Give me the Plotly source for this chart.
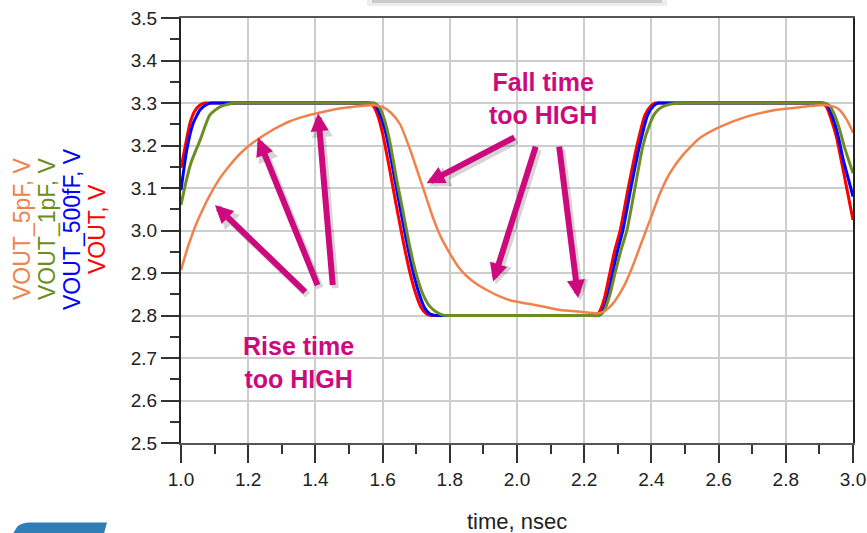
import plotly.graph_objects as go

# ---------------- data ----------------
t_vout = [1.000, 1.012, 1.027, 1.040, 1.055, 1.070, 1.085, 1.100,
          1.540, 1.555, 1.570, 1.585, 1.600, 1.620, 1.640, 1.660, 1.680, 1.700, 1.715, 1.730, 1.745, 1.760,
          2.220, 2.235, 2.245, 2.260, 2.275, 2.290, 2.307, 2.331, 2.357, 2.381, 2.398, 2.411, 2.420, 2.435,
          2.890, 2.905, 2.920, 2.935, 2.950, 2.965, 2.980, 3.000]
v_vout = [3.147, 3.196, 3.253, 3.280, 3.294, 3.300, 3.300, 3.300,
          3.300, 3.300, 3.295, 3.272, 3.228, 3.148, 3.062, 2.980, 2.905, 2.848, 2.818, 2.804, 2.800, 2.800,
          2.800, 2.800, 2.808, 2.840, 2.895, 2.950, 3.000, 3.100, 3.200, 3.272, 3.293, 3.300, 3.300, 3.300,
          3.300, 3.300, 3.292, 3.262, 3.222, 3.165, 3.105, 3.025]

t_500f = [1.000, 1.017, 1.036, 1.057, 1.075, 1.090, 1.105,
          1.547, 1.562, 1.578, 1.593, 1.610, 1.630, 1.650, 1.670, 1.690, 1.710, 1.725, 1.740, 1.757, 1.772,
          2.225, 2.240, 2.252, 2.268, 2.283, 2.298, 2.315, 2.339, 2.365, 2.389, 2.406, 2.420, 2.430, 2.445,
          2.895, 2.910, 2.925, 2.940, 2.955, 2.970, 2.985, 3.000]
v_500f = [3.095, 3.189, 3.252, 3.284, 3.296, 3.300, 3.300,
          3.300, 3.300, 3.295, 3.272, 3.228, 3.148, 3.062, 2.980, 2.905, 2.848, 2.818, 2.804, 2.800, 2.800,
          2.800, 2.800, 2.806, 2.838, 2.893, 2.948, 3.000, 3.100, 3.200, 3.272, 3.293, 3.300, 3.300, 3.300,
          3.300, 3.300, 3.292, 3.265, 3.225, 3.170, 3.125, 3.080]

t_1p = [1.000, 1.015, 1.030, 1.057, 1.086, 1.116, 1.150, 1.165, 1.180,
        1.560, 1.575, 1.590, 1.605, 1.620, 1.642, 1.660, 1.680, 1.700, 1.720, 1.740, 1.760, 1.780, 1.795, 1.810,
        2.230, 2.245, 2.260, 2.275, 2.292, 2.310, 2.327, 2.351, 2.375, 2.395, 2.411, 2.430, 2.460, 2.495, 2.510,
        2.900, 2.915, 2.930, 2.945, 2.960, 2.975, 3.000]
v_1p = [3.060, 3.115, 3.160, 3.213, 3.272, 3.291, 3.299, 3.300, 3.300,
        3.300, 3.300, 3.290, 3.262, 3.215, 3.119, 3.048, 2.965, 2.898, 2.850, 2.822, 2.808, 2.801, 2.800, 2.800,
        2.800, 2.800, 2.812, 2.845, 2.900, 2.955, 3.000, 3.100, 3.200, 3.250, 3.276, 3.290, 3.298, 3.300, 3.300,
        3.300, 3.300, 3.294, 3.272, 3.238, 3.195, 3.135]

t_5p = [1.000, 1.020, 1.042, 1.065, 1.086, 1.115, 1.146, 1.175, 1.205, 1.235, 1.265, 1.295,
        1.324, 1.365, 1.404, 1.445, 1.482, 1.520, 1.550, 1.575,
        1.600, 1.625, 1.652, 1.682, 1.711, 1.731, 1.750, 1.775, 1.801, 1.825, 1.850, 1.880,
        1.910, 1.945, 1.979, 2.030, 2.077, 2.128, 2.188, 2.240,
        2.260, 2.277, 2.292, 2.307, 2.322, 2.336, 2.351, 2.366, 2.396, 2.426, 2.455, 2.494,
        2.545, 2.604, 2.684, 2.773, 2.840, 2.890, 2.920,
        2.945, 2.961, 2.978, 2.991, 3.000]
v_5p = [2.907, 2.960, 3.009, 3.050, 3.083, 3.122, 3.154, 3.180, 3.201, 3.218, 3.233, 3.246,
        3.257, 3.268, 3.276, 3.283, 3.288, 3.292, 3.294, 3.295,
        3.291, 3.277, 3.250, 3.190, 3.122, 3.075, 3.030, 2.982, 2.945, 2.915, 2.893, 2.874,
        2.860, 2.846, 2.836, 2.828, 2.821, 2.813, 2.809, 2.805,
        2.810, 2.821, 2.835, 2.853, 2.875, 2.900, 2.930, 2.962, 3.025, 3.088, 3.135, 3.178,
        3.218, 3.244, 3.268, 3.284, 3.290, 3.294, 3.295,
        3.291, 3.283, 3.265, 3.246, 3.230]

series_names = ["VOUT_5pF, V", "VOUT_1pF, V", "VOUT_500fF, V", "VOUT, V"]
x_ticks = [1.0, 1.2, 1.4, 1.6, 1.8, 2.0, 2.2, 2.4, 2.6, 2.8, 3.0]
y_ticks = [2.5, 2.6, 2.7, 2.8, 2.9, 3.0, 3.1, 3.2, 3.3, 3.4, 3.5]

# arrow tips / tails (data coords)
rise_tips = [(1.101, 3.060), (1.229, 3.218), (1.408, 3.276)]
rise_tails = [(1.374, 2.852), (1.408, 2.868), (1.452, 2.868)]
fall_tips = [(1.731, 3.111), (1.929, 2.880), (2.182, 2.841)]
fall_tails = [(1.997, 3.221), (2.057, 3.201), (2.125, 3.201)]

# ---------------- styling ----------------
W, H = 867, 533
L, R, T, B = 181, 14, 18, 90
PW, PH = W - L - R, H - T - B
C_ORANGE = "#F0824C"
C_GREEN = "#6B8E23"
C_BLUE = "#0000FF"
C_RED = "#FF0000"
MAG = "#CC0A7E"
FONT = "Arial, Liberation Sans, sans-serif"


def px(xp):
    return (xp - L) / PW


def py(yp):
    return (H - B - yp) / PH


fig = go.Figure()
for t, v, c, w in [(t_vout, v_vout, C_RED, 3), (t_500f, v_500f, C_BLUE, 3),
                   (t_1p, v_1p, C_GREEN, 3), (t_5p, v_5p, C_ORANGE, 2.5)]:
    fig.add_trace(go.Scatter(x=t, y=v, mode="lines",
                             line=dict(color=c, width=w, shape="spline", smoothing=0.6),
                             showlegend=False, hoverinfo="skip", cliponaxis=True))

annotations = []
# arrow shadows then arrows
dx_sh, dy_sh = 2.5 * 2.0 / PW, -3.0 * 1.0 / PH
for tips, tails in [(rise_tips, rise_tails), (fall_tips, fall_tails)]:
    for (x, y), (ax, ay) in zip(tips, tails):
        annotations.append(dict(x=x + dx_sh, y=y + dy_sh, ax=ax + dx_sh, ay=ay + dy_sh,
                                xref="x", yref="y", axref="x", ayref="y", text="",
                                showarrow=True, arrowhead=2, arrowsize=0.6, arrowwidth=7,
                                arrowcolor="rgba(0,0,0,0.16)"))
for tips, tails in [(rise_tips, rise_tails), (fall_tips, fall_tails)]:
    for (x, y), (ax, ay) in zip(tips, tails):
        annotations.append(dict(x=x, y=y, ax=ax, ay=ay,
                                xref="x", yref="y", axref="x", ayref="y", text="",
                                showarrow=True, arrowhead=2, arrowsize=0.6, arrowwidth=6,
                                arrowcolor=MAG))

annotations.append(dict(x=px(543), y=py(99), xref="paper", yref="paper",
                        text="<b>Fall time<br>too HIGH</b>", showarrow=False,
                        font=dict(family=FONT, size=25, color=MAG), align="center",
                        xanchor="center", yanchor="middle"))
annotations.append(dict(x=px(298), y=py(362), xref="paper", yref="paper",
                        text="<b>Rise time<br>too HIGH</b>", showarrow=False,
                        font=dict(family=FONT, size=25, color=MAG), align="center",
                        xanchor="center", yanchor="middle"))

# rotated legend labels
for name, c, xp in zip(series_names, [C_ORANGE, C_GREEN, C_BLUE, C_RED], [22, 47, 72, 97]):
    annotations.append(dict(x=px(xp), y=py(229), xref="paper", yref="paper", text=name,
                            textangle=-90, showarrow=False, xanchor="center", yanchor="middle",
                            font=dict(family=FONT, size=23, color=c)))

# x-axis title
annotations.append(dict(x=px(517), y=py(521), xref="paper", yref="paper", text="time, nsec",
                        showarrow=False, xanchor="center", yanchor="middle",
                        font=dict(family=FONT, size=22, color="#222")))

shapes = [
    dict(type="rect", xref="paper", yref="paper", x0=px(367), x1=px(667), y0=py(6), y1=py(-2),
         fillcolor="rgba(0,0,0,0.07)", line=dict(width=0), layer="above"),
    dict(type="rect", xref="paper", yref="paper", x0=px(372), x1=px(662), y0=py(3), y1=py(-2),
         fillcolor="rgba(0,0,0,0.14)", line=dict(width=0), layer="above"),
    dict(type="path", xref="paper", yref="paper",
         path=f"M {px(11)},{py(537)} L {px(17)},{py(527)} Q {px(21)},{py(522.5)} {px(30)},{py(522.5)} "
              f"L {px(107)},{py(522.5)} L {px(103)},{py(537)} Z",
         fillcolor="#2F7DB5", line=dict(width=0)),
]

fig.update_layout(
    width=W, height=H,
    margin=dict(l=L, r=R, t=T, b=B, pad=0, autoexpand=False),
    paper_bgcolor="white", plot_bgcolor="white",
    font=dict(family=FONT, color="#222"),
    annotations=annotations, shapes=shapes,
    xaxis=dict(range=[1.0, 3.0], tickvals=x_ticks, tickformat=".1f", automargin=False,
               ticks="outside", ticklen=18, tickwidth=1.5, tickcolor="#333",
               minor=dict(dtick=0.1, ticks="outside", ticklen=9, tickwidth=1.5,
                          tickcolor="#333", showgrid=False),
               showgrid=True, gridcolor="#cdcdcd", gridwidth=1.5,
               showline=True, linecolor="#555", linewidth=2, mirror=True,
               zeroline=False, tickfont=dict(size=19, color="#222")),
    yaxis=dict(range=[2.5, 3.5], tickvals=y_ticks, tickformat=".1f", automargin=False,
               ticks="outside", ticklen=18, tickwidth=1.5, tickcolor="#333",
               minor=dict(dtick=0.05, ticks="outside", ticklen=9, tickwidth=1.5,
                          tickcolor="#333", showgrid=False),
               showgrid=True, gridcolor="#cdcdcd", gridwidth=1.5,
               showline=True, linecolor="#222", linewidth=2, mirror=True,
               zeroline=False, tickfont=dict(size=19, color="#222")),
)

fig.write_html("out.html")
